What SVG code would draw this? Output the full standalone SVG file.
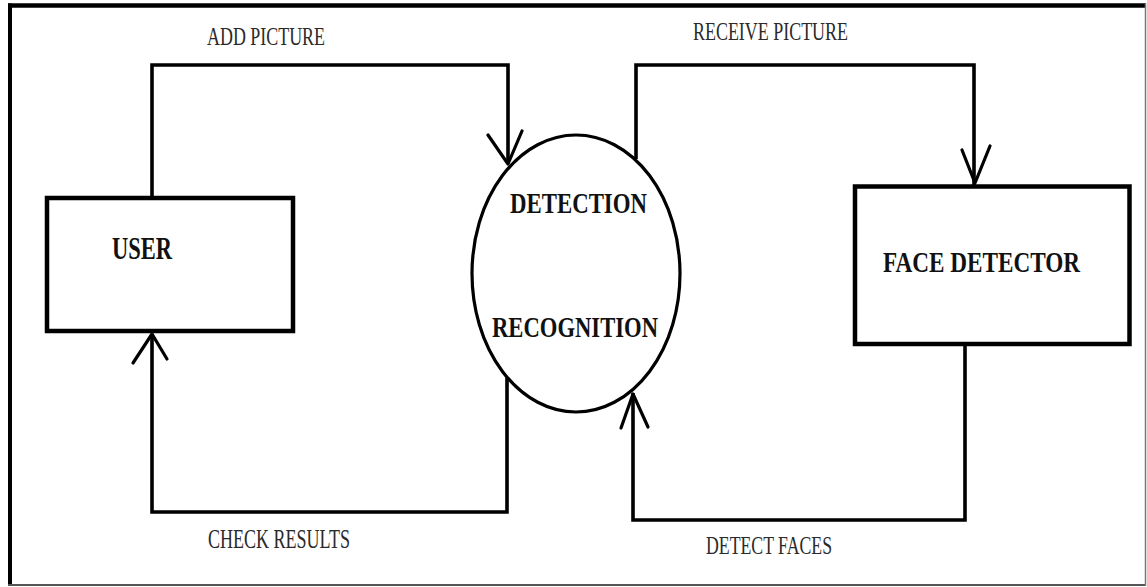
<svg xmlns="http://www.w3.org/2000/svg" width="1147" height="587" viewBox="0 0 1147 587">
  <style>
    .node { fill: #fff; stroke: #000; stroke-width: 4.5; }
    .proc { fill: #fff; stroke: #000; stroke-width: 3.2; }
    .flow { fill: none; stroke: #000; stroke-width: 3.6; stroke-linejoin: miter; }
    .head { fill: none; stroke: #000; stroke-width: 3.2; stroke-linecap: round; stroke-linejoin: round; }
    .title { font-family: "Liberation Serif", "Times New Roman", serif; font-weight: bold; fill: #111; }
    .label { font-family: "Liberation Serif", "Times New Roman", serif; fill: #2a2a2a; }
  </style>

  <!-- frame -->
  <g id="frame">
    <rect x="0" y="0" width="1147" height="587" fill="#fff"/>
    <line x1="8" y1="5.5" x2="1146" y2="5.5" stroke="#000" stroke-width="4.5"/>
    <line x1="10" y1="3.5" x2="10" y2="586" stroke="#000" stroke-width="4"/>
    <line x1="8" y1="585" x2="1146" y2="585" stroke="#555" stroke-width="2"/>
    <line x1="1145.5" y1="3.5" x2="1145.5" y2="586" stroke="#777" stroke-width="1.5"/>
  </g>

  <!-- connectors -->
  <g id="connectors">
    <!-- add picture: user -> process -->
    <path class="flow" d="M152,197 V65 H508 V164"/>
    <path class="head" d="M488,135 L508,164 L522,131"/>
    <!-- receive picture: process -> face detector -->
    <path class="flow" d="M636,159 V65 H974 V185"/>
    <path class="head" d="M962,150 L975,183 L990,146"/>
    <!-- detect faces: face detector -> process -->
    <path class="flow" d="M965,345 V520 H633 V393"/>
    <path class="head" d="M621,428 L633,394 L648,427"/>
    <!-- check results: process -> user -->
    <path class="flow" d="M507,378 V512 H152 V334"/>
    <path class="head" d="M133,363 L152,334 L167,359"/>

    <text class="label" x="207" y="45" font-size="26" textLength="118" lengthAdjust="spacingAndGlyphs">ADD PICTURE</text>
    <text class="label" x="693" y="40" font-size="26" textLength="155" lengthAdjust="spacingAndGlyphs">RECEIVE PICTURE</text>
    <text class="label" x="208" y="548" font-size="27" textLength="142" lengthAdjust="spacingAndGlyphs">CHECK RESULTS</text>
    <text class="label" x="706" y="554" font-size="26" textLength="126" lengthAdjust="spacingAndGlyphs">DETECT FACES</text>
  </g>

  <!-- user -->
  <g id="user">
    <rect class="node" x="47" y="198" width="246" height="133"/>
    <text class="title" x="112" y="259" font-size="32" textLength="60" lengthAdjust="spacingAndGlyphs">USER</text>
  </g>

  <!-- detection / recognition process -->
  <g id="process">
    <ellipse class="proc" cx="576" cy="273.5" rx="104" ry="138.5"/>
    <text class="title" x="510" y="213" font-size="30" textLength="137" lengthAdjust="spacingAndGlyphs">DETECTION</text>
    <text class="title" x="492" y="337" font-size="30" textLength="166" lengthAdjust="spacingAndGlyphs">RECOGNITION</text>
  </g>

  <!-- face detector -->
  <g id="face-detector">
    <rect class="node" x="855" y="186.5" width="274.5" height="157.5"/>
    <text class="title" x="883" y="272" font-size="30" textLength="197" lengthAdjust="spacingAndGlyphs">FACE DETECTOR</text>
  </g>
</svg>
